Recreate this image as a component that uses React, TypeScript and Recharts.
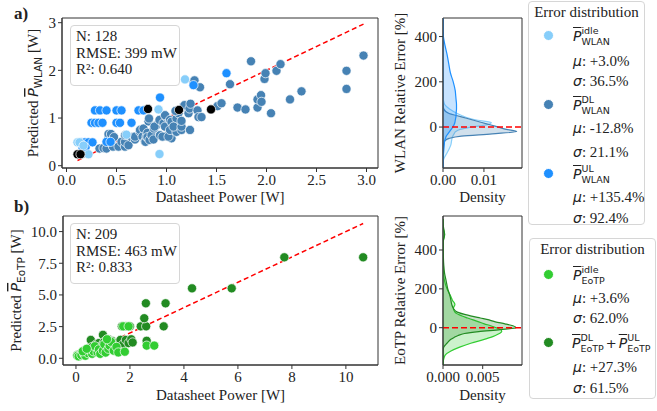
import React from "react";
import {
  ScatterChart,
  Scatter,
  ComposedChart,
  Area,
  XAxis,
  YAxis,
  ReferenceLine,
  ReferenceArea,
} from "recharts";

const FONT = '"Liberation Serif", "Times New Roman", serif';
const MATH = '"DejaVu Sans", sans-serif';

// WLAN scatter: [datasheet W, predicted W]
const wlanDL: [number, number][] = [
  [0.16, 0.25], [0.33, 0.36], [0.37, 0.37], [0.4, 0.36], [0.42, 0.6], [0.42, 0.665],
  [0.445, 0.665], [0.435, 0.5], [0.45, 0.47], [0.465, 0.4], [0.475, 0.6], [0.52, 0.4],
  [0.55, 0.5], [0.585, 0.4], [0.585, 0.5], [0.585, 0.64], [0.62, 0.43], [0.65, 0.6],
  [0.685, 0.55], [0.685, 0.61], [0.735, 0.71], [0.735, 0.75], [0.76, 0.61], [0.77, 0.78],
  [0.785, 0.51], [0.79, 0.5], [0.8, 0.61], [0.81, 0.69], [0.81, 0.6], [0.83, 0.54],
  [0.82, 0.93], [0.825, 0.99], [0.85, 0.64], [0.875, 0.78], [0.87, 0.55], [0.9, 0.85],
  [0.88, 0.82], [0.935, 0.64], [0.93, 0.96], [0.97, 0.89], [0.995, 1.03], [1.0, 0.62],
  [0.96, 0.61], [0.985, 0.82], [0.985, 1.06], [1.035, 0.96], [1.05, 0.575], [1.02, 0.61],
  [1.07, 0.89], [1.035, 0.75], [1.1, 0.71], [1.05, 0.92], [1.1, 0.99], [1.07, 0.82],
  [1.12, 1.1], [1.09, 1.15], [1.15, 0.75], [1.17, 1.24], [1.15, 0.82], [1.15, 0.94],
  [1.2, 1.24], [1.22, 1.1], [1.235, 0.75], [1.18, 1.27], [1.23, 1.2], [1.24, 1.3],
  [1.27, 1.76], [1.28, 1.79], [1.31, 1.16], [1.32, 1.02], [1.335, 1.645], [1.35, 1.02],
  [1.51, 1.25], [1.55, 1.31], [1.635, 1.71], [1.71, 1.22], [1.79, 1.18], [1.845, 2.19],
  [1.91, 1.22], [1.91, 1.39], [1.945, 1.48], [1.95, 1.34], [1.98, 1.82], [1.99, 1.94],
  [2.045, 1.1], [2.1, 1.99], [2.14, 2.13], [2.235, 1.39], [2.35, 1.56], [2.8, 1.61],
  [2.8, 1.99], [2.97, 2.31],
];
const wlanUL: [number, number][] = [
  [0.15, 0.49], [0.185, 0.49], [0.22, 0.49], [0.26, 0.49], [0.16, 0.38], [0.19, 0.38],
  [0.25, 0.9], [0.285, 0.9], [0.32, 0.9], [0.36, 0.9], [0.5, 0.9], [0.535, 0.9], [0.65, 0.9],
  [0.285, 1.16], [0.335, 1.16], [0.4, 1.16], [0.5, 1.16], [0.55, 1.16], [0.72, 1.16],
  [0.77, 1.16], [0.935, 1.43], [1.27, 1.69], [1.6, 1.94], [0.4, 0.5], [0.44, 0.5],
];
const wlanIdle: [number, number][] = [
  [0.11, 0.49], [0.13, 0.49], [0.22, 0.24], [0.6, 0.65], [0.92, 1.18], [0.93, 0.245],
  [1.185, 1.81], [0.17, 0.42],
];
const wlanOther: [number, number][] = [
  [0.11, 0.24], [0.14, 0.24], [0.815, 1.19], [1.125, 1.17], [1.445, 1.18],
];

// EoTP scatter
const eotpActive: [number, number][] = [
  [0.05, 0.25], [0.1, 0.3], [0.15, 0.2], [0.25, 0.45], [0.3, 0.6], [0.4, 0.5], [0.45, 0.7],
  [0.5, 0.8], [0.55, 1.45], [0.6, 0.9], [0.7, 0.75], [0.75, 1.1], [0.8, 0.95], [0.85, 1.2],
  [0.9, 0.6], [0.95, 1.0], [1.0, 1.85], [1.05, 1.3], [1.1, 0.9], [1.15, 1.25], [1.2, 1.5],
  [1.25, 0.8], [1.3, 1.1], [1.35, 1.35], [1.45, 1.2], [1.55, 0.95], [1.65, 1.45], [1.75, 1.1],
  [1.85, 1.45], [1.95, 1.2], [2.05, 1.5], [2.1, 1.25], [1.7, 2.52], [1.85, 2.52], [2.0, 2.52],
  [2.4, 2.52], [2.6, 2.52], [3.25, 2.52], [2.53, 3.16], [2.59, 4.34], [3.32, 4.34], [4.3, 5.52],
  [5.77, 5.52], [7.72, 7.97], [10.64, 7.97], [2.62, 1.38], [1.6, 0.55],
];
const eotpIdle: [number, number][] = [
  [0.05, 0.2], [0.1, 0.15], [0.2, 0.25], [0.3, 0.35], [0.35, 0.2], [0.45, 0.4], [0.55, 0.6],
  [0.6, 0.35], [0.65, 0.55], [0.7, 0.95], [0.8, 0.45], [0.85, 0.7], [0.9, 0.35], [1.0, 0.6],
  [1.05, 1.1], [1.1, 0.45], [1.2, 0.75], [1.25, 1.0], [1.3, 1.3], [1.4, 0.6], [1.5, 0.9],
  [1.57, 0.46], [1.81, 0.52], [2.62, 1.0], [2.9, 1.0], [1.75, 2.52], [1.95, 2.52],
  [0.25, 0.55], [0.4, 0.75], [1.15, 1.5],
];

// KDE of relative error [%]
const wlanErr = [-180, -160, -140, -120, -100, -80, -60, -50, -40, -30, -20, -10, 0, 10, 20, 30, 40, 50, 60, 80, 100, 120, 140, 160, 200, 240, 280, 320, 360, 400, 440, 480];
const wlanIdleDens = [0, 0, 0.0002, 0.0008, 0.0014, 0.0019, 0.0021, 0.0022, 0.0024, 0.0027, 0.0031, 0.0042, 0.0068, 0.0108, 0.0118, 0.0085, 0.0062, 0.0047, 0.0035, 0.0016, 0.0004, 0.0001, 0, 0, 0, 0, 0, 0, 0, 0, 0, 0];
const wlanDlDens = [0, 0, 0, 0, 0, 0.0001, 0.0005, 0.0015, 0.0045, 0.012, 0.018, 0.0155, 0.0135, 0.0115, 0.0095, 0.0075, 0.0055, 0.0035, 0.0015, 0.0002, 0, 0, 0, 0, 0, 0, 0, 0, 0, 0, 0, 0];
const wlanUlDens = [0, 0, 0, 0.0001, 0.0002, 0.0003, 0.0004, 0.0006, 0.0008, 0.0012, 0.0016, 0.002, 0.0024, 0.0027, 0.0029, 0.003, 0.0031, 0.0032, 0.0032, 0.0033, 0.0033, 0.0032, 0.0031, 0.003, 0.0025, 0.0018, 0.0014, 0.001, 0.0005, 0.0001, 0, 0];

const eotpErr = [-200, -180, -160, -140, -120, -100, -80, -60, -50, -40, -30, -20, -10, 0, 10, 20, 30, 40, 50, 60, 80, 100, 120, 140, 160, 200, 240, 280, 320, 360, 400, 440, 480, 520, 560];
const eotpIdleDens = [0, 0, 0.0001, 0.0003, 0.001, 0.0021, 0.0035, 0.0052, 0.006, 0.0066, 0.0071, 0.0074, 0.0073, 0.0067, 0.006, 0.0052, 0.0045, 0.0038, 0.0031, 0.0024, 0.0015, 0.0013, 0.0015, 0.0012, 0.001, 0.0005, 0.0002, 0.00005, 0, 0, 0, 0, 0.0002, 0, 0];
const eotpActiveDens = [0, 0, 0, 0, 0, 0.0001, 0.0005, 0.001, 0.0014, 0.0019, 0.0027, 0.0045, 0.0072, 0.0092, 0.0088, 0.0078, 0.0066, 0.0058, 0.0047, 0.0036, 0.0018, 0.0013, 0.0011, 0.001, 0.0009, 0.0006, 0.0004, 0.0002, 0.0001, 0.00005, 0.00003, 0.00003, 0.0002, 0.00005, 0];

const C = {
  idle: "#87CEFA",
  dl: "#4682B4",
  ul: "#1E90FF",
  gIdle: "#32CD32",
  gActive: "#228B22",
};

const toPts = (a: [number, number][]) => a.map(([x, y]) => ({ x, y }));

const dot = (color: string) => (p: any) => (
  <circle cx={p.cx} cy={p.cy} r={4.6} fill={color} stroke="#fff" strokeWidth={0.7} />
);

const tickStyle = { fontSize: 15, fontFamily: FONT, fill: "#222" };

const predLabel = (sub: string, dx: number) => (props: any) => {
  const vb = props.viewBox || { x: 0, y: 0, height: 0 };
  const cx = vb.x + dx;
  const cy = vb.y + vb.height / 2;
  return (
    <text
      transform={`translate(${cx},${cy}) rotate(-90)`}
      textAnchor="middle"
      fontFamily={FONT}
      fontSize={15}
      fill="#222"
    >
      <tspan>Predicted  </tspan>
      <tspan fontFamily={MATH} fontStyle="italic" fontSize={14} textDecoration="overline">
        P
      </tspan>
      <tspan fontFamily={MATH} fontSize={10.5} dy={4}>
        {sub}
      </tspan>
      <tspan dy={-4}> [W]</tspan>
    </text>
  );
};

const vLabel = (text: string, dx: number) => (props: any) => {
  const vb = props.viewBox || { x: 0, y: 0, height: 0 };
  return (
    <text
      transform={`translate(${vb.x + dx},${vb.y + vb.height / 2}) rotate(-90)`}
      textAnchor="middle"
      fontFamily={FONT}
      fontSize={15}
      fill="#222"
    >
      {text}
    </text>
  );
};

const PBar: React.FC<{ sup: string; sub: string }> = ({ sup, sub }) => (
  <span style={{ display: "inline-flex", alignItems: "center", fontFamily: MATH }}>
    <span style={{ fontStyle: "italic", fontSize: 14, textDecoration: "overline", lineHeight: "16px" }}>P</span>
    <span
      style={{
        display: "inline-flex",
        flexDirection: "column",
        fontSize: 9.5,
        lineHeight: "11px",
      }}
    >
      <span>{sup}</span>
      <span>{sub}</span>
    </span>
  </span>
);

const Stat: React.FC<{ sym: string; text: string; top: number; left: number }> = ({ sym, text, top, left }) => (
  <div style={{ position: "absolute", left, top: top - 9, fontSize: 15, lineHeight: "18px", whiteSpace: "nowrap" }}>
    <span style={{ fontFamily: MATH, fontStyle: "italic", fontSize: 14 }}>{sym}</span>: {text}
  </div>
);

const Marker: React.FC<{ color: string; top: number; left: number }> = ({ color, top, left }) => (
  <div
    style={{
      position: "absolute",
      left: left - 5,
      top: top - 5,
      width: 9,
      height: 9,
      borderRadius: "50%",
      background: color,
      border: "0.5px solid #fff",
    }}
  />
);

const Line: React.FC<{ top: number; left: number; children: React.ReactNode }> = ({ top, left, children }) => (
  <div style={{ position: "absolute", left, top: top - 11, height: 22, display: "flex", alignItems: "center", whiteSpace: "nowrap" }}>
    {children}
  </div>
);

const StatsBox: React.FC<{ top: number; lines: string[] }> = ({ top, lines }) => (
  <div
    style={{
      position: "absolute",
      left: 70,
      top,
      width: 110,
      height: 61,
      border: "1px solid #d6d6d6",
      borderRadius: 4,
      background: "rgba(255,255,255,0.85)",
      padding: "2px 0 0 5px",
      fontSize: 15,
      lineHeight: "16.5px",
      boxSizing: "border-box",
    }}
  >
    {lines.map((l) => (
      <div key={l}>{l}</div>
    ))}
  </div>
);

const wlanKde = wlanErr.map((err, i) => ({ err, idle: wlanIdleDens[i], dl: wlanDlDens[i], ul: wlanUlDens[i] }));
const eotpKde = eotpErr.map((err, i) => ({ err, idle: eotpIdleDens[i], act: eotpActiveDens[i] }));

const WX: [number, number] = [-0.045, 3.115];
const WY: [number, number] = [-0.048, 3.098];
const EX: [number, number] = [-0.48, 11.19];
const EY: [number, number] = [-0.53, 11.23];
const WD: [number, number] = [-181, 482];
const ED: [number, number] = [-192, 575];

const axisLine = { stroke: "#333" };

export default function App() {
  return (
    <div
      style={{
        position: "absolute",
        left: 0,
        top: 0,
        width: 657,
        height: 411,
        background: "#fff",
        fontFamily: FONT,
        color: "#222",
        overflow: "hidden",
      }}
    >
      {/* a) WLAN scatter */}
      <div style={{ position: "absolute", left: 0, top: 0 }}>
        <ScatterChart width={390} height={206} margin={{ top: 18, right: 12, bottom: 0, left: 0 }}>
          <XAxis
            type="number"
            dataKey="x"
            domain={WX}
            ticks={[0, 0.5, 1, 1.5, 2, 2.5, 3]}
            tickFormatter={(v: number) => v.toFixed(1)}
            allowDataOverflow
            height={38}
            tickSize={4}
            tick={tickStyle}
            axisLine={axisLine}
            tickLine={axisLine}
            label={{ value: "Datasheet Power [W]", position: "insideBottom", offset: 4, style: tickStyle }}
          />
          <YAxis
            type="number"
            dataKey="y"
            domain={WY}
            ticks={[0, 1, 2, 3]}
            allowDataOverflow
            width={62}
            tickSize={4}
            tick={tickStyle}
            axisLine={axisLine}
            tickLine={axisLine}
            label={predLabel("WLAN", 38)}
          />
          <ReferenceArea x1={WX[0]} x2={WX[1]} y1={WY[0]} y2={WY[1]} fill="none" stroke="#333" strokeOpacity={1} />
          <Scatter data={toPts(wlanDL)} shape={dot(C.dl)} isAnimationActive={false} />
          <Scatter data={toPts(wlanUL)} shape={dot(C.ul)} isAnimationActive={false} />
          <Scatter data={toPts(wlanIdle)} shape={dot(C.idle)} isAnimationActive={false} />
          <Scatter data={toPts(wlanOther)} shape={dot("#000")} isAnimationActive={false} />
          <ReferenceLine
            segment={[{ x: 0.11, y: 0.11 }, { x: 2.97, y: 2.97 }]}
            stroke="#f00"
            strokeWidth={1.5}
            strokeDasharray="5 3"
          />
        </ScatterChart>
      </div>

      {/* WLAN KDE */}
      <div style={{ position: "absolute", left: 380, top: 0 }}>
        <ComposedChart layout="vertical" width={150} height={206} data={wlanKde} margin={{ top: 18, right: 8, bottom: 0, left: 0 }}>
          <XAxis
            type="number"
            domain={[0, 0.0193]}
            ticks={[0, 0.01]}
            tickFormatter={(v: number) => v.toFixed(2)}
            allowDataOverflow
            height={38}
            tickSize={4}
            tick={tickStyle}
            axisLine={axisLine}
            tickLine={axisLine}
            label={{ value: "Density", position: "insideBottom", offset: 4, style: tickStyle }}
          />
          <YAxis
            type="number"
            dataKey="err"
            domain={WD}
            ticks={[0, 200, 400]}
            allowDataOverflow
            reversed
            width={63}
            tickSize={4}
            tick={tickStyle}
            axisLine={axisLine}
            tickLine={axisLine}
            label={vLabel("WLAN Relative Error [%]", 25)}
          />
          <ReferenceArea x1={0} x2={0.0193} y1={WD[0]} y2={WD[1]} fill="none" stroke="#333" strokeOpacity={1} />
          <Area type="monotone" dataKey="idle" stroke={C.idle} fill={C.idle} fillOpacity={0.25} strokeWidth={1.2} isAnimationActive={false} />
          <Area type="monotone" dataKey="dl" stroke={C.dl} fill={C.dl} fillOpacity={0.25} strokeWidth={1.2} isAnimationActive={false} />
          <Area type="monotone" dataKey="ul" stroke={C.ul} fill={C.ul} fillOpacity={0.25} strokeWidth={1.2} isAnimationActive={false} />
          <ReferenceLine y={0} stroke="#f00" strokeWidth={1.5} strokeDasharray="6 3" />
        </ComposedChart>
      </div>

      {/* b) EoTP scatter */}
      <div style={{ position: "absolute", left: 0, top: 198 }}>
        <ScatterChart width={390} height={205} margin={{ top: 18, right: 12, bottom: 0, left: 0 }}>
          <XAxis
            type="number"
            dataKey="x"
            domain={EX}
            ticks={[0, 2, 4, 6, 8, 10]}
            allowDataOverflow
            height={38}
            tickSize={4}
            tick={tickStyle}
            axisLine={axisLine}
            tickLine={axisLine}
            label={{ value: "Datasheet Power [W]", position: "insideBottom", offset: 3, style: tickStyle }}
          />
          <YAxis
            type="number"
            dataKey="y"
            domain={EY}
            ticks={[0, 2.5, 5, 7.5, 10]}
            tickFormatter={(v: number) => v.toFixed(1)}
            allowDataOverflow
            width={63}
            tickSize={4}
            tick={tickStyle}
            axisLine={axisLine}
            tickLine={axisLine}
            label={predLabel("EoTP", 21)}
          />
          <ReferenceArea x1={EX[0]} x2={EX[1]} y1={EY[0]} y2={EY[1]} fill="none" stroke="#333" strokeOpacity={1} />
          <Scatter data={toPts(eotpActive)} shape={dot(C.gActive)} isAnimationActive={false} />
          <Scatter data={toPts(eotpIdle)} shape={dot(C.gIdle)} isAnimationActive={false} />
          <ReferenceLine
            segment={[{ x: 0.05, y: 0.05 }, { x: 10.64, y: 10.64 }]}
            stroke="#f00"
            strokeWidth={1.5}
            strokeDasharray="5 3"
          />
        </ScatterChart>
      </div>

      {/* EoTP KDE */}
      <div style={{ position: "absolute", left: 380, top: 198 }}>
        <ComposedChart layout="vertical" width={150} height={205} data={eotpKde} margin={{ top: 18, right: 8, bottom: 0, left: 0 }}>
          <XAxis
            type="number"
            domain={[0, 0.00995]}
            ticks={[0, 0.005]}
            tickFormatter={(v: number) => v.toFixed(3)}
            allowDataOverflow
            height={38}
            tickSize={4}
            tick={tickStyle}
            axisLine={axisLine}
            tickLine={axisLine}
            label={{ value: "Density", position: "insideBottom", offset: 3, style: tickStyle }}
          />
          <YAxis
            type="number"
            dataKey="err"
            domain={ED}
            ticks={[0, 200, 400]}
            allowDataOverflow
            reversed
            width={63}
            tickSize={4}
            tick={tickStyle}
            axisLine={axisLine}
            tickLine={axisLine}
            label={vLabel("EoTP Relative Error [%]", 25)}
          />
          <ReferenceArea x1={0} x2={0.00995} y1={ED[0]} y2={ED[1]} fill="none" stroke="#333" strokeOpacity={1} />
          <Area type="monotone" dataKey="idle" stroke={C.gIdle} fill={C.gIdle} fillOpacity={0.25} strokeWidth={1.2} isAnimationActive={false} />
          <Area type="monotone" dataKey="act" stroke={C.gActive} fill={C.gActive} fillOpacity={0.25} strokeWidth={1.2} isAnimationActive={false} />
          <ReferenceLine y={0} stroke="#f00" strokeWidth={1.5} strokeDasharray="6 3" />
        </ComposedChart>
      </div>

      <StatsBox top={25} lines={["N: 128", "RMSE: 399 mW", "R²: 0.640"]} />
      <StatsBox top={223} lines={["N: 209", "RMSE: 463 mW", "R²: 0.833"]} />

      <div style={{ position: "absolute", left: 14, top: 4, fontSize: 17, fontWeight: "bold" }}>a)</div>
      <div style={{ position: "absolute", left: 14, top: 197, fontSize: 17, fontWeight: "bold" }}>b)</div>

      {/* legend WLAN */}
      <div style={{ position: "absolute", left: 528, top: 1, width: 117, height: 224, border: "1px solid #d6d6d6", borderRadius: 4, boxSizing: "border-box" }} />
      <div style={{ position: "absolute", left: 528, top: 3, width: 117, textAlign: "center", fontSize: 15, lineHeight: "18px" }}>Error distribution</div>
      <Marker color={C.idle} left={548} top={35} />
      <Line left={573} top={36}><PBar sup="idle" sub="WLAN" /></Line>
      <Stat sym="μ" text="+3.0%" left={573} top={61} />
      <Stat sym="σ" text="36.5%" left={573} top={81} />
      <Marker color={C.dl} left={548} top={104} />
      <Line left={573} top={105}><PBar sup="DL" sub="WLAN" /></Line>
      <Stat sym="μ" text="-12.8%" left={573} top={128} />
      <Stat sym="σ" text="21.1%" left={573} top={152} />
      <Marker color={C.ul} left={548} top={173} />
      <Line left={573} top={174}><PBar sup="UL" sub="WLAN" /></Line>
      <Stat sym="μ" text="+135.4%" left={573} top={197} />
      <Stat sym="σ" text="92.4%" left={573} top={218} />

      {/* legend EoTP */}
      <div style={{ position: "absolute", left: 529, top: 238, width: 127, height: 161, border: "1px solid #d6d6d6", borderRadius: 4, boxSizing: "border-box" }} />
      <div style={{ position: "absolute", left: 529, top: 240, width: 127, textAlign: "center", fontSize: 15, lineHeight: "18px" }}>Error distribution</div>
      <Marker color={C.gIdle} left={548} top={274} />
      <Line left={573} top={275}><PBar sup="idle" sub="EoTP" /></Line>
      <Stat sym="μ" text="+3.6%" left={573} top={298} />
      <Stat sym="σ" text="62.0%" left={573} top={318} />
      <Marker color={C.gActive} left={548} top={342} />
      <Line left={572} top={343}>
        <PBar sup="DL" sub="EoTP" />
        <span style={{ fontFamily: MATH, fontSize: 13, margin: "0 2px" }}>+</span>
        <PBar sup="UL" sub="EoTP" />
      </Line>
      <Stat sym="μ" text="+27.3%" left={573} top={367} />
      <Stat sym="σ" text="61.5%" left={573} top={388} />
    </div>
  );
}
